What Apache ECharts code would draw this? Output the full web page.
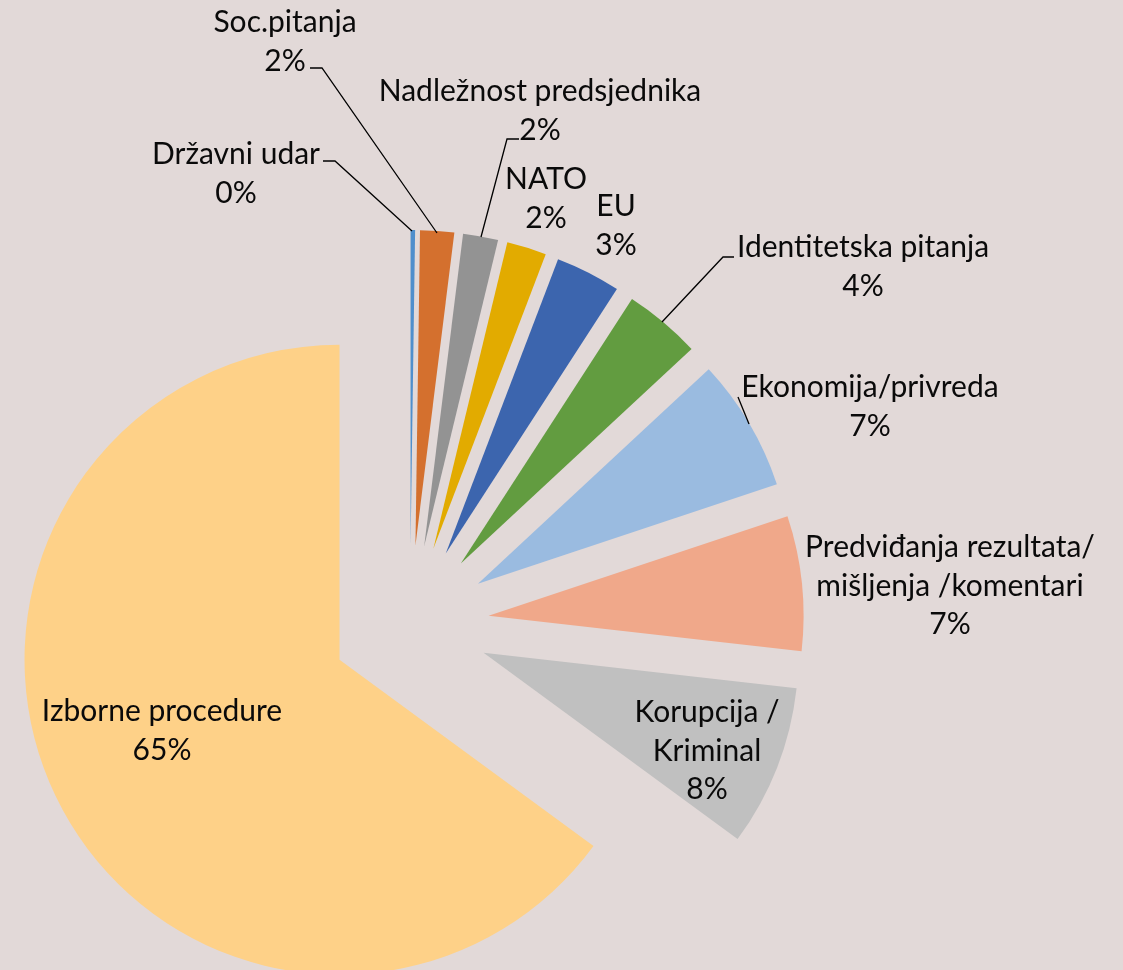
<!DOCTYPE html>
<html>
<head>
<meta charset="utf-8">
<script src="https://cdn.jsdelivr.net/npm/echarts@6/dist/echarts.min.js"></script>
<style>
html,body{margin:0;padding:0;background:#e2d9d8;}
#chart{width:1123px;height:970px;}
</style>
</head>
<body>
<div id="chart"></div>
<script>
// topics, clockwise from 12 o'clock
const categories = [
  'Državni udar',
  'Soc.pitanja',
  'Nadležnost predsjednika',
  'NATO',
  'EU',
  'Identitetska pitanja',
  'Ekonomija/privreda',
  'Predviđanja rezultata/\nmišljenja /komentari',
  'Korupcija /\nKriminal',
  'Izborne procedure'
]
// share of coverage (%)
const shares = [0.23, 1.74, 1.8, 2.03, 3.34, 3.94, 6.8, 6.9, 8.28, 64.9]

const colors = ['#4f8fcc','#d4702e','#939393','#e2ab00','#3c65ae','#629c40','#9abbe0','#f0a88a','#c0c0c0','#fed188']

// where each label block sits (center) + its leader line, like the dragged labels in the original
const labelSpots = [
  {x: 236, y: 174, line: [[412,231],[335,161],[323,161]]},
  {x: 285, y: 42,  line: [[437,233],[322,68],[310,68]]},
  {x: 540, y: 111, line: [[481,237],[507,139],[519,139]]},
  {x: 546, y: 199},
  {x: 616, y: 226},
  {x: 863, y: 267, line: [[662,322],[723,257],[734,257]]},
  {x: 870, y: 407, line: [[749,424],[738,397]]},
  {x: 950, y: 586},
  {x: 707, y: 751},
  {x: 162, y: 731}
]

const chart = echarts.init(document.getElementById('chart'))

// exploded slices (every slice pulled out by the same amount)
const sliceData = categories.map((name, i) => ({
  name: name,
  value: shares[i],
  selected: true,
  itemStyle: {color: colors[i]}
}))
// same data again, invisible, only to carry the labels
const labelData = categories.map((name, i) => ({
  name: name,
  value: shares[i],
  labelLine: {show: !!labelSpots[i].line}
}))

const option = {
  backgroundColor: '#e2d9d8',
  animation: false,
  series: [
    {
      type: 'pie',
      z: 2,
      center: [410, 624],
      radius: 315,
      startAngle: 90,
      clockwise: true,
      selectedMode: 'multiple',
      selectedOffset: 79,
      silent: true,
      label: {show: false},
      labelLine: {show: false},
      data: sliceData
    },
    {
      type: 'pie',
      z: 6,
      center: [410, 624],
      radius: 315,
      startAngle: 90,
      clockwise: true,
      silent: true,
      percentPrecision: 0,
      avoidLabelOverlap: false,
      itemStyle: {color: 'rgba(0,0,0,0)'},
      data: labelData,
      label: {
        show: true,
        formatter: '{b}\n{d}%',
        fontFamily: 'Lato',
        fontSize: 30,
        lineHeight: 38.5,
        color: '#0a0a0a',
        align: 'center'
      },
      labelLine: {
        lineStyle: {color: '#000', width: 1.3}
      },
      labelLayout: function (params) {
        const spot = labelSpots[params.dataIndex]
        const out = {x: spot.x, y: spot.y, align: 'center', verticalAlign: 'middle'}
        if (spot.line) out.labelLinePoints = spot.line
        return out
      }
    }
  ]
}
chart.setOption(option)
</script>
</body>
</html>
